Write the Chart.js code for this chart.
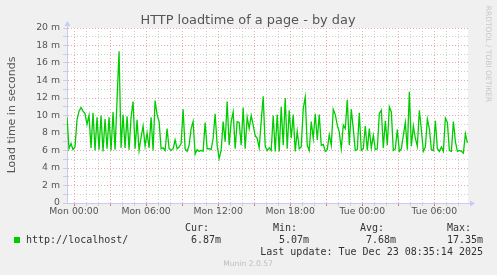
<!DOCTYPE html>
<html>
<head>
<meta charset="utf-8">
<script src="https://cdn.jsdelivr.net/npm/chart.js@4.4.1/dist/chart.umd.min.js"></script>
<style>
  html, body { margin: 0; padding: 0; background: #f0f0f0; }
  #box { width: 497px; height: 275px; }
</style>
</head>
<body>
<div id="box"><canvas id="myChart" width="497" height="275"></canvas></div>
<script>
// load time in ms, one sample every 10 minutes, first one at Sun 23:25
const startMinute = -35;
const stepMinutes = 10;
const loadTime = [
  9.8, 6.2, 6.8, 6.1, 6.4, 9.5, 10.5, 10.9, 10.5, 10.2, 9.0, 10.0, 6.3, 10.3, 6.0, 9.8, 6.1, 10.0, 5.9, 9.6, 6.2, 9.8, 6.0, 10.4, 6.1, 11.8, 17.35, 6.3, 10.1,
  6.3, 9.9, 6.1, 9.8, 11.6, 6.2, 9.5, 6.0, 7.5, 8.8, 6.5, 8.0, 6.3, 9.8, 6.0, 11.7, 10.1, 9.3, 6.2, 6.3, 6.0, 8.5, 6.2, 6.0, 6.2, 7.2, 6.2, 6.4, 6.8,
  10.7, 6.2, 5.9, 6.6, 8.5, 9.3, 5.6, 6.1, 5.9, 6.0, 5.9, 9.2, 6.2, 6.2, 6.1, 7.4, 10.2, 6.6, 5.07, 6.0, 9.3, 7.0, 11.6, 6.6, 9.3, 10.4, 6.2, 9.3, 9.2,
  6.6, 10.9, 6.2, 9.8, 8.5, 10.0, 8.9, 7.7, 7.4, 6.3, 9.3, 12.2, 6.5, 6.0, 6.3, 6.0, 10.0, 5.9, 10.1, 5.9, 11.0, 6.6, 12.0, 6.2, 10.6, 7.4, 10.1, 5.9, 8.2,
  6.2, 6.4, 10.8, 12.1, 6.6, 6.0, 9.3, 7.4, 10.2, 7.2, 10.1, 6.6, 6.7, 5.9, 6.1, 7.8, 6.6, 10.7, 10.1, 8.9, 8.1, 6.2, 8.9, 8.5, 11.8, 6.6, 10.7, 8.5, 6.0,
  6.1, 10.3, 6.0, 6.2, 8.8, 6.0, 8.5, 6.3, 7.7, 6.1, 6.2, 10.2, 10.6, 6.3, 9.4, 6.6, 11.0, 10.4, 6.0, 6.2, 8.4, 5.9, 6.2, 7.7, 9.2, 6.1, 12.7, 6.5, 8.8,
  7.4, 6.5, 10.6, 8.4, 5.9, 6.4, 9.6, 8.5, 6.1, 6.0, 9.4, 6.2, 5.9, 6.4, 5.9, 9.7, 9.2, 6.0, 5.9, 9.3, 7.0, 5.9, 6.0, 5.9, 5.7, 7.9, 6.87,
];
const xTickLabels = ['Mon 00:00', 'Mon 06:00', 'Mon 12:00', 'Mon 18:00', 'Tue 00:00', 'Tue 06:00'];
const yTickLabels = ['0', '2 m', '4 m', '6 m', '8 m', '10 m', '12 m', '14 m', '16 m', '18 m', '20 m'];
const legendNames = ['Cur:', 'Min:', 'Avg:', 'Max:'];
const legendValues = ['6.87m', '5.07m', '7.68m', '17.35m'];

const points = loadTime.map((v, i) => ({ x: startMinute + i * stepMinutes, y: v }));
const hourTicks = [];
for (let m = 0; m <= 1920; m += 60) hourTicks.push({ value: m });

const RED = '#eaaaaa';
const GREY = '#cfcfcf';
const AXIS = '#c6caf4';

const muninDeco = {
  id: 'muninDeco',
  beforeDraw(chart) {
    const { ctx, chartArea: a } = chart;
    ctx.save();
    ctx.fillStyle = '#f0f0f0';
    ctx.fillRect(0, 0, chart.width, chart.height);
    ctx.fillStyle = '#ffffff';
    ctx.fillRect(a.left, a.top, a.right - a.left, a.bottom - a.top);
    ctx.restore();
  },
  afterDraw(chart) {
    const { ctx, chartArea: a } = chart;
    ctx.save();
    // axis extensions + arrows
    ctx.strokeStyle = AXIS;
    ctx.fillStyle = AXIS;
    ctx.lineWidth = 1;
    ctx.beginPath();
    ctx.moveTo(a.left + 0.5, a.top);
    ctx.lineTo(a.left + 0.5, a.top - 3);
    ctx.moveTo(a.right, a.bottom + 0.5);
    ctx.lineTo(a.right + 3, a.bottom + 0.5);
    ctx.stroke();
    ctx.beginPath();
    ctx.moveTo(a.left + 0.5, a.top - 7);
    ctx.lineTo(a.left - 2.5, a.top - 2);
    ctx.lineTo(a.left + 3.5, a.top - 2);
    ctx.fill();
    ctx.beginPath();
    ctx.moveTo(a.right + 7, a.bottom + 0.5);
    ctx.lineTo(a.right + 2, a.bottom - 2.5);
    ctx.lineTo(a.right + 2, a.bottom + 3.5);
    ctx.fill();

    // title
    ctx.fillStyle = '#555';
    ctx.font = '12.9px "DejaVu Sans"';
    ctx.textAlign = 'center';
    ctx.textBaseline = 'alphabetic';
    ctx.fillText('HTTP loadtime of a page - by day', 248, 24);

    // y title
    ctx.save();
    ctx.translate(15, 115);
    ctx.rotate(-Math.PI / 2);
    ctx.font = '11px "DejaVu Sans"';
    ctx.fillText('Load time in seconds', 0, 0);
    ctx.restore();

    // side watermark
    ctx.save();
    ctx.translate(486, 54);
    ctx.rotate(Math.PI / 2);
    ctx.fillStyle = '#c8c8c8';
    ctx.font = '7.5px "DejaVu Sans"';
    ctx.fillText('RRDTOOL / TOBI OETIKER', 0, 0);
    ctx.restore();

    // legend
    ctx.fillStyle = '#00cc00';
    ctx.fillRect(14, 237, 6, 6);
    ctx.fillStyle = '#333';
    ctx.font = '10px "DejaVu Sans Mono"';
    ctx.textAlign = 'left';
    ctx.fillText('http://localhost/', 26, 243);
    const labelX = [185, 273, 360, 447];
    const valueX = [221, 309, 396, 483];
    legendNames.forEach((n, i) => {
      ctx.textAlign = 'left';
      ctx.fillText(n, labelX[i], 231);
      ctx.textAlign = 'right';
      ctx.fillText(legendValues[i], valueX[i], 243);
    });
    ctx.textAlign = 'right';
    ctx.fillText('Last update: Tue Dec 23 08:35:14 2025', 483, 255);

    ctx.textAlign = 'center';
    ctx.fillStyle = '#bdbdbd';
    ctx.font = '7.6px "DejaVu Sans"';
    ctx.fillText('Munin 2.0.57', 248, 266);
    ctx.restore();
  },
};

Chart.defaults.font.family = '"DejaVu Sans"';

const ctx = document.getElementById('myChart');
new Chart(ctx, {
  type: 'line',
  data: {
    datasets: [
      {
        data: points,
        borderColor: '#00cc00',
        borderWidth: 1.3,
        pointRadius: 0,
        tension: 0,
        fill: false,
      },
    ],
  },
  options: {
    responsive: false,
    animation: false,
    layout: { padding: { left: 0, top: 28, right: 29, bottom: 0 } },
    plugins: {
      legend: { display: false },
      tooltip: { enabled: false },
    },
    scales: {
      x: {
        type: 'linear',
        min: startMinute,
        max: 1968,
        afterBuildTicks: (scale) => {
          scale.ticks = hourTicks.map((t) => ({ value: t.value }));
        },
        afterFit: (scale) => {
          scale.height = 72;
        },
        ticks: {
          autoSkip: false,
          maxRotation: 0,
          padding: 0,
          color: '#555',
          font: { size: 9.3 },
          callback: (v) => (v % 360 === 0 ? xTickLabels[v / 360] : ''),
        },
        grid: {
          color: (c) => (c.tick && c.tick.value % 180 === 0 ? RED : GREY),
          tickColor: (c) => (c.tick && c.tick.value % 180 === 0 ? '#e07070' : GREY),
          tickLength: 3,
          lineWidth: 1,
        },
        border: { display: true, color: AXIS, dash: [1, 2] },
      },
      y: {
        min: 0,
        max: 20,
        afterFit: (scale) => {
          scale.width = 67;
        },
        ticks: {
          stepSize: 1,
          autoSkip: false,
          padding: 3,
          color: '#555',
          font: { size: 9.3 },
          callback: (v) => (v % 2 === 0 ? yTickLabels[v / 2] : ''),
        },
        grid: {
          color: (c) => (c.tick && c.tick.value % 2 === 0 && c.tick.value > 0 ? RED : GREY),
          tickColor: GREY,
          tickLength: 4,
          lineWidth: 1,
        },
        border: { display: true, color: AXIS, dash: [1, 2] },
      },
    },
  },
  plugins: [muninDeco],
});
</script>
</body>
</html>
